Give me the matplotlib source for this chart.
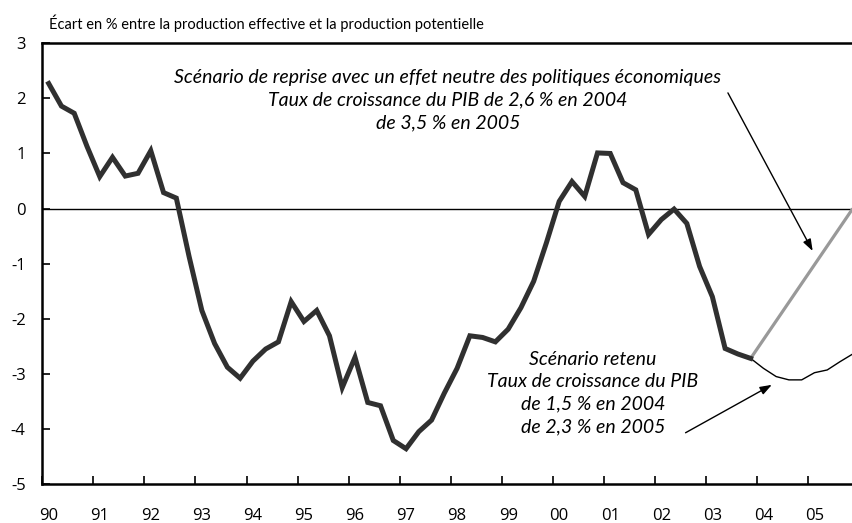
import numpy as np
import matplotlib
matplotlib.use('Agg')
import matplotlib.pyplot as plt

# écart de production trimestriel, 1990T1 - 2003T4
gap_history = [2.27, 1.86, 1.73, 1.13, 0.58, 0.93, 0.59, 0.64,
               1.05, 0.29, 0.19, -0.87, -1.85, -2.45, -2.88, -3.08,
               -2.77, -2.55, -2.42, -1.69, -2.05, -1.85, -2.31, -3.25,
               -2.70, -3.52, -3.58, -4.21, -4.36, -4.05, -3.84, -3.35,
               -2.90, -2.31, -2.34, -2.42, -2.19, -1.80, -1.32, -0.62,
               0.13, 0.49, 0.22, 1.01, 1.00, 0.47, 0.34, -0.47,
               -0.20, -0.01, -0.27, -1.05, -1.60, -2.54, -2.64, -2.72]
# scénarios 2003T4 - 2005T4
gap_retenu = [-2.72, -2.90, -3.05, -3.11, -3.11, -2.98, -2.93, -2.78, -2.64]
gap_neutre = [-2.72, -2.38, -2.04, -1.70, -1.36, -1.02, -0.68, -0.34, 0.00]

year_labels = ['90', '91', '92', '93', '94', '95', '96', '97',
               '98', '99', '00', '01', '02', '03', '04', '05']
y_ticks = [3, 2, 1, 0, -1, -2, -3, -4, -5]

first_year = 1990
n_hist = len(gap_history)
x_hist = first_year + 0.125 + 0.25 * np.arange(n_hist)
x_scen = first_year + 0.125 + 0.25 * np.arange(n_hist - 1, n_hist - 1 + len(gap_retenu))

fig = plt.figure(figsize=(8.53, 5.23), dpi=100)
ax = fig.add_axes([0.0496, 0.0746, 0.9504, 0.8426])

ax.axhline(0, color='black', lw=1.0, zorder=1)
ax.plot(x_scen, gap_neutre, color='#999999', lw=2.3, zorder=2, solid_capstyle='butt')
ax.plot(x_scen, gap_retenu, color='black', lw=1.0, zorder=2)
ax.plot(x_hist, gap_history, color='#303030', lw=3.6, zorder=3, solid_joinstyle='miter')

ax.set_xlim(first_year, first_year + 15.88)
ax.set_ylim(-5, 3)

years = first_year + np.arange(len(year_labels))
ax.set_xticks(years)
ax.set_xticklabels([])
ax.set_xticks(years + 0.125, minor=True)
ax.set_xticklabels(year_labels, minor=True)
ax.tick_params(axis='x', which='major', direction='in', length=6, width=1.2)
ax.tick_params(axis='x', which='minor', length=0, pad=17)
ax.set_yticks(y_ticks)
ax.set_yticklabels([str(v) for v in y_ticks])
ax.tick_params(axis='y', direction='in', length=6, width=1.2, pad=12)
for lab in ax.get_xticklabels(minor=True) + ax.get_yticklabels():
    lab.set_fontfamily('Open Sans')
    lab.set_fontsize(12)

ax.spines['right'].set_visible(False)
for s in ['left', 'bottom', 'top']:
    ax.spines[s].set_linewidth(1.8)

fig.text(49 / 853, 1 - 23 / 523,
         'Écart en % entre la production effective et la production potentielle',
         fontfamily='Lato', fontsize=10.5, ha='left', va='center')

txt_style = dict(fontfamily='Lato', fontstyle='italic', fontsize=14,
                 ha='center', va='center', multialignment='center', linespacing=1.4)
fig.text(448 / 853, 1 - 100 / 523,
         'Scénario de reprise avec un effet neutre des politiques économiques\n'
         'Taux de croissance du PIB de 2,6 % en 2004\n'
         'de 3,5 % en 2005', **txt_style)
ax.annotate('', xy=(2005.09, -0.77), xytext=(2003.43, 2.10),
            arrowprops=dict(arrowstyle='-|>,head_length=0.7,head_width=0.25',
                            color='black', lw=1.0, shrinkA=0, shrinkB=0))

fig.text(593 / 853, 1 - 393 / 523,
         'Scénario retenu\nTaux de croissance du PIB\nde 1,5 % en 2004\nde 2,3 % en 2005',
         **txt_style)
ax.annotate('', xy=(2004.29, -3.20), xytext=(2002.60, -4.07),
            arrowprops=dict(arrowstyle='-|>,head_length=0.7,head_width=0.25',
                            color='black', lw=1.0, shrinkA=0, shrinkB=0))

fig.savefig('out.png', dpi=100)
